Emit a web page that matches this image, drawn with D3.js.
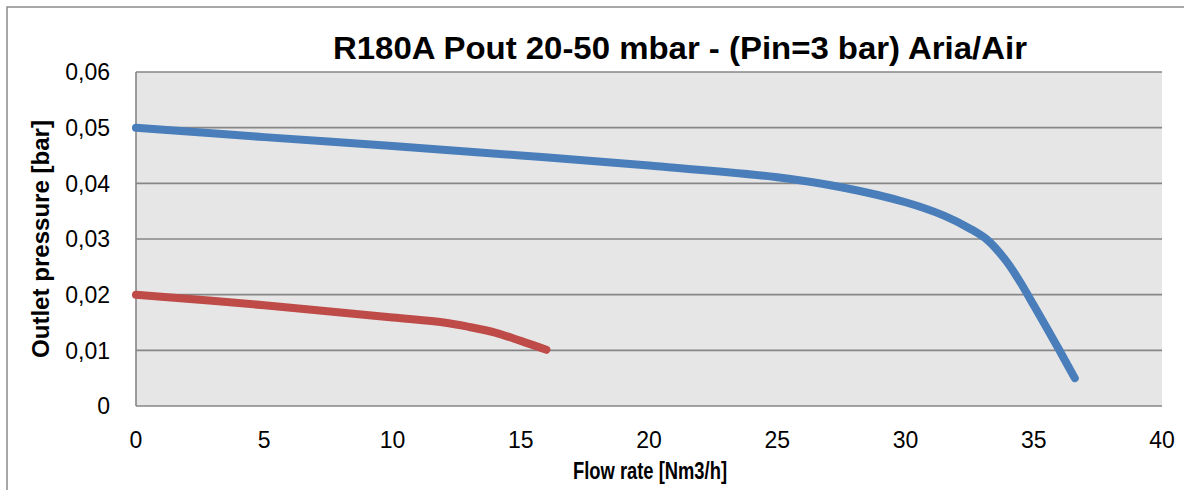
<!DOCTYPE html>
<html>
<head>
<meta charset="utf-8">
<script src="https://cdn.jsdelivr.net/npm/d3@7"></script>
<style>
  body { margin: 0; background: #fff; }
  svg { display: block; font-family: "Liberation Sans", Arial, sans-serif; }
</style>
</head>
<body>
<svg id="chart"></svg>
<script>
const width = 1184;
const height = 490;
const margin = { left: 136, right: 22, top: 72, bottom: 84 };

// Air curve 20-50 mbar setting (blue)
const flowBlue = [0, 5, 10, 15, 20, 25, 27.5, 30, 31.5, 32.5, 33.2, 33.9, 34.4, 35, 36, 36.6];
const pressBlue = [0.05, 0.0483, 0.0467, 0.045, 0.0432, 0.0411, 0.0393, 0.0366, 0.0342, 0.0319, 0.0298, 0.0262, 0.0228, 0.0181, 0.01, 0.005];

// lower setting (red)
const flowRed = [0, 5, 10, 12, 13, 14, 15, 16];
const pressRed = [0.02, 0.0181, 0.0159, 0.015, 0.0142, 0.0132, 0.0117, 0.0101];

const xTicks = [0, 5, 10, 15, 20, 25, 30, 35, 40];
const yTicks = [0, 0.01, 0.02, 0.03, 0.04, 0.05, 0.06];

const title = "R180A Pout 20-50 mbar - (Pin=3 bar) Aria/Air";
const xTitle = "Flow rate [Nm3/h]";
const yTitle = "Outlet pressure [bar]";

const svg = d3.select("#chart")
    .attr("width", width)
    .attr("height", height);

// outer chart frame (only top and left visible)
svg.append("path")
    .attr("d", `M7,${height} V7 H${width}`)
    .attr("fill", "none")
    .attr("stroke", "#8a8a8a")
    .attr("stroke-width", 1.5);

const x = d3.scaleLinear().domain([0, 40]).range([margin.left, 1162]);
const y = d3.scaleLinear().domain([0, 0.06]).range([height - margin.bottom, margin.top]);

// plot background
svg.append("rect")
    .attr("x", x(0))
    .attr("y", y(0.06))
    .attr("width", x(40) - x(0))
    .attr("height", y(0) - y(0.06))
    .attr("fill", "#e6e6e6");

// horizontal gridlines
svg.selectAll(".grid")
    .data(yTicks)
    .enter()
    .append("line")
    .attr("class", "grid")
    .attr("x1", x(0))
    .attr("x2", x(40))
    .attr("y1", d => y(d))
    .attr("y2", d => y(d))
    .attr("stroke", "#868686")
    .attr("stroke-width", 1.6);

// left axis line
svg.append("line")
    .attr("x1", x(0)).attr("x2", x(0))
    .attr("y1", y(0.06)).attr("y2", y(0))
    .attr("stroke", "#868686")
    .attr("stroke-width", 1.6);

// tick labels
svg.selectAll(".ytick")
    .data(yTicks)
    .enter()
    .append("text")
    .attr("class", "ytick")
    .attr("x", 110)
    .attr("y", d => y(d))
    .attr("dy", "0.36em")
    .attr("text-anchor", "end")
    .attr("font-size", 23)
    .attr("fill", "#000")
    .text(d => d === 0 ? "0" : d3.format(".2f")(d).replace(".", ","));

svg.selectAll(".xtick")
    .data(xTicks)
    .enter()
    .append("text")
    .attr("class", "xtick")
    .attr("x", d => x(d))
    .attr("y", 448)
    .attr("text-anchor", "middle")
    .attr("font-size", 23)
    .attr("fill", "#000")
    .text(d => d);

// series
const line = d3.line()
    .x(d => x(d[0]))
    .y(d => y(d[1]))
    .curve(d3.curveCatmullRom.alpha(0.5));

const series = [
    { color: "#4a7ebb", pts: d3.zip(flowBlue, pressBlue) },
    { color: "#be4b48", pts: d3.zip(flowRed, pressRed) }
];

svg.selectAll(".series")
    .data(series)
    .enter()
    .append("path")
    .attr("class", "series")
    .attr("d", d => line(d.pts))
    .attr("fill", "none")
    .attr("stroke", d => d.color)
    .attr("stroke-width", 8)
    .attr("stroke-linecap", "round")
    .attr("stroke-linejoin", "round");

// titles
svg.append("text")
    .attr("x", 333)
    .attr("y", 59)
    .attr("font-size", 31)
    .attr("font-weight", "bold")
    .attr("textLength", 694)
    .attr("lengthAdjust", "spacingAndGlyphs")
    .text(title);

svg.append("text")
    .attr("x", 573)
    .attr("y", 479)
    .attr("font-size", 24)
    .attr("font-weight", "bold")
    .attr("textLength", 154)
    .attr("lengthAdjust", "spacingAndGlyphs")
    .text(xTitle);

svg.append("text")
    .attr("transform", "translate(49, 358) rotate(-90)")
    .attr("font-size", 24)
    .attr("font-weight", "bold")
    .attr("textLength", 238)
    .attr("lengthAdjust", "spacingAndGlyphs")
    .text(yTitle);
</script>
</body>
</html>
